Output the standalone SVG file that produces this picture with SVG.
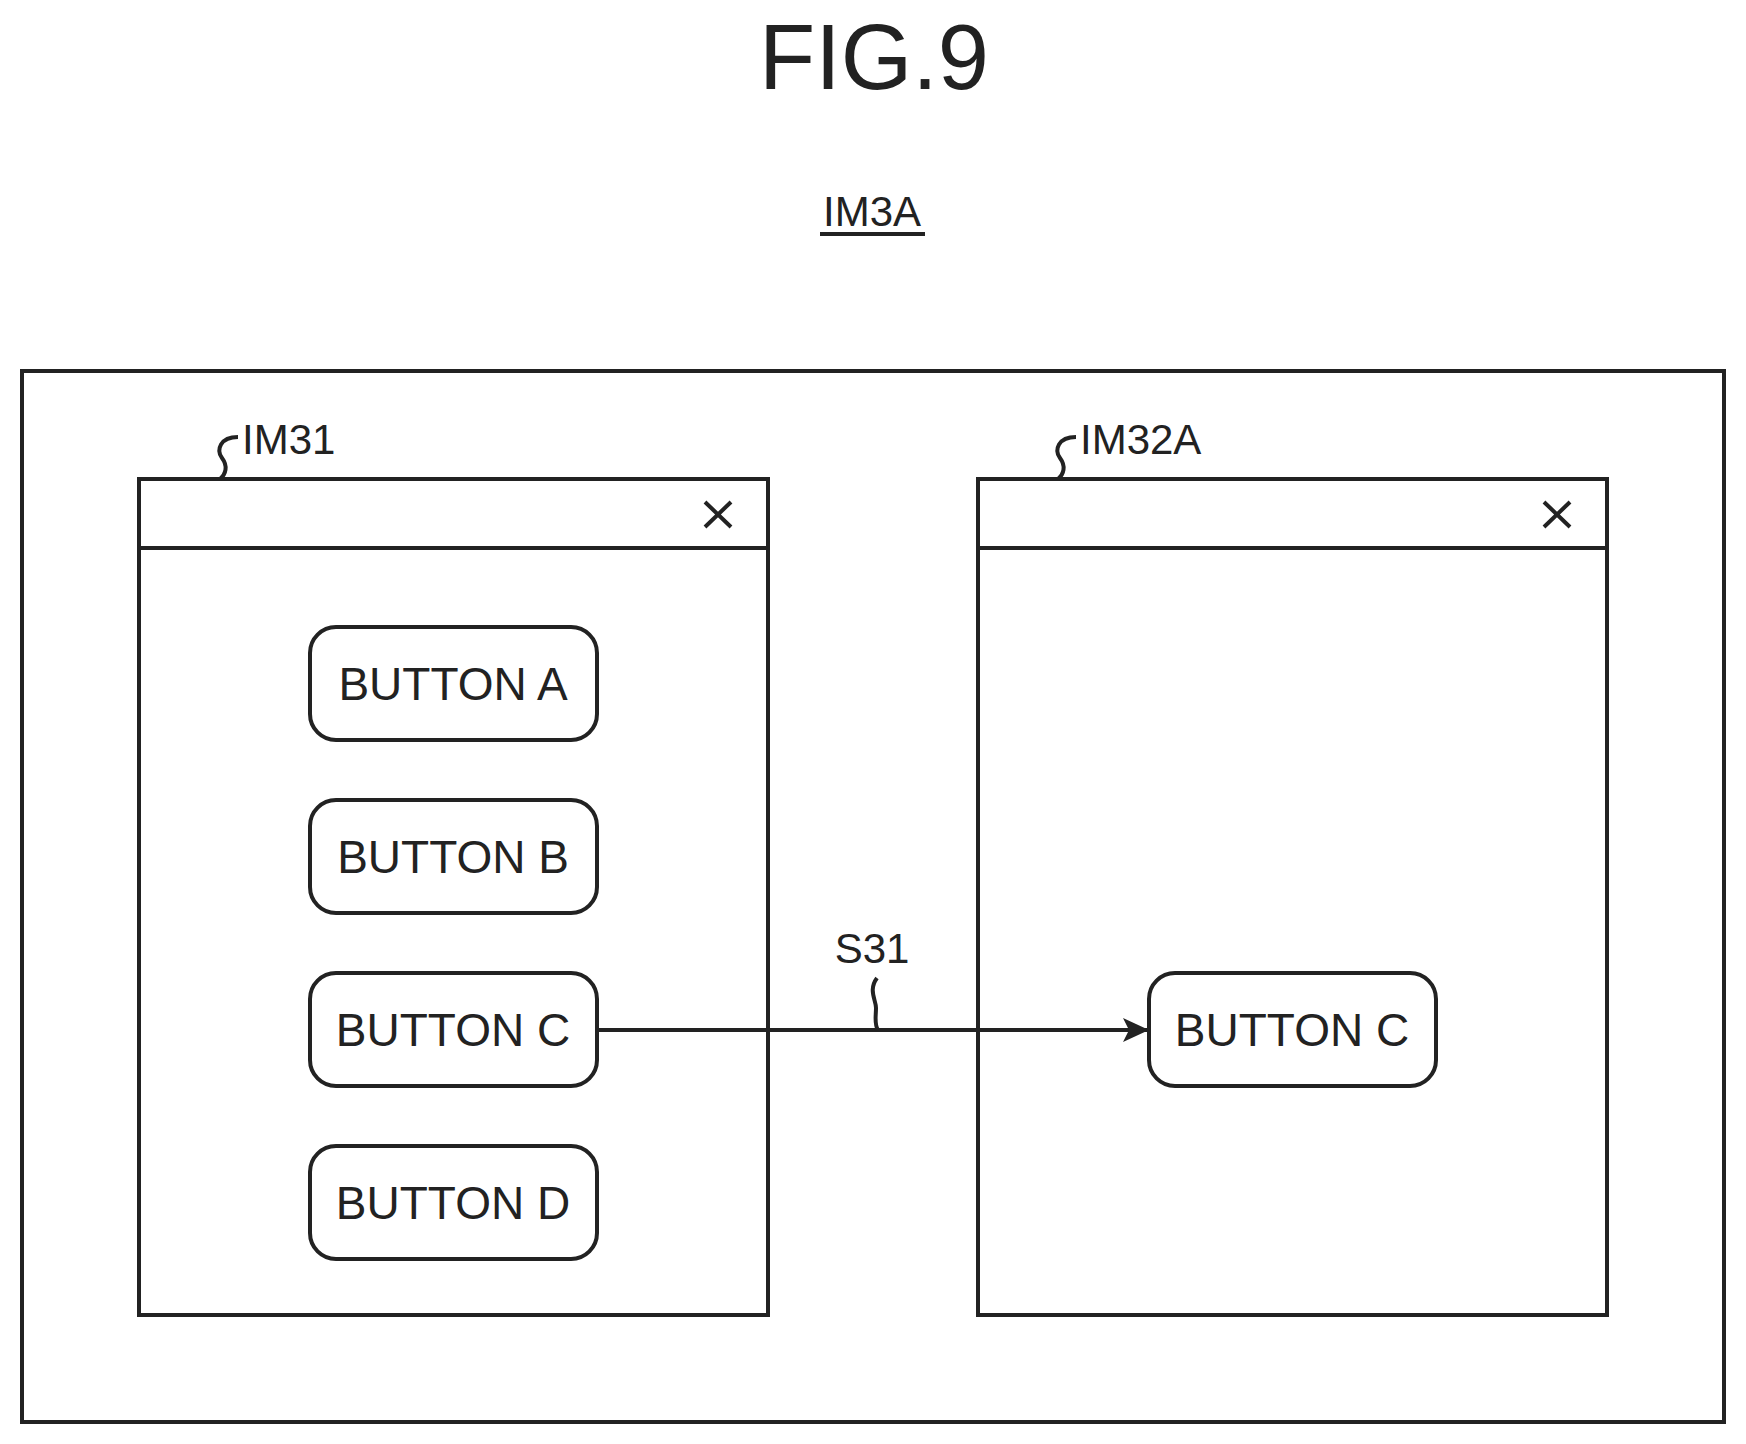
<svg xmlns="http://www.w3.org/2000/svg" width="1746" height="1444" viewBox="0 0 1746 1444">
<style>
.s{fill:none;stroke:#222;stroke-width:4}
.b{fill:#fff;stroke:#222;stroke-width:4}
.t{font-family:"Liberation Sans",Arial,sans-serif;fill:#222}
.bt{font-size:46px;text-anchor:middle}
.lb{font-size:42px}
</style>
<defs>
<marker id="ah" markerWidth="26" markerHeight="24" refX="25" refY="12" orient="auto" markerUnits="userSpaceOnUse" viewBox="0 0 26 24"><path d="M0,0 L26,12 L0,24 L6,12 Z" fill="#222"/></marker>
</defs>
<rect width="1746" height="1444" fill="#fff"/>
<text class="t" x="874" y="89" font-size="92" text-anchor="middle">FIG.9</text>
<g id="im3a"><text class="t lb" x="872" y="226" text-anchor="middle">IM3A</text><line class="s" x1="820" y1="234" x2="925" y2="234" stroke-width="3"/></g>
<g id="outer"><rect class="s" x="22" y="371" width="1702" height="1051"/></g>
<g id="im31">
<rect class="s" x="139" y="479" width="629" height="836"/>
<line class="s" x1="139" y1="548" x2="768" y2="548"/>
<path class="s" d="M705,502 L731,527 M731,502 L705,527" stroke-width="3.5"/>
<text class="t lb" x="242" y="454">IM31</text>
<path class="s" d="M238,437 C220,437 216,450 222,458 C228,466 226,474 220,479" stroke-width="3"/>
</g>
<g id="im32a">
<rect class="s" x="978" y="479" width="629" height="836"/>
<line class="s" x1="978" y1="548" x2="1607" y2="548"/>
<path class="s" d="M1544,502 L1570,527 M1570,502 L1544,527" stroke-width="3.5"/>
<text class="t lb" x="1080" y="454">IM32A</text>
<path class="s" d="M1076,437 C1058,437 1054,450 1060,458 C1066,466 1064,474 1058,479" stroke-width="3"/>
</g>
<g id="btnA"><rect class="b" x="310" y="627" width="287" height="113" rx="26"/><text class="t bt" x="453" y="700">BUTTON A</text></g>
<g id="btnB"><rect class="b" x="310" y="800" width="287" height="113" rx="26"/><text class="t bt" x="453" y="873">BUTTON B</text></g>
<g id="btnC"><rect class="b" x="310" y="973" width="287" height="113" rx="26"/><text class="t bt" x="453" y="1046">BUTTON C</text></g>
<g id="btnD"><rect class="b" x="310" y="1146" width="287" height="113" rx="26"/><text class="t bt" x="453" y="1219">BUTTON D</text></g>
<g id="btnC2"><rect class="b" x="1149" y="973" width="287" height="113" rx="26"/><text class="t bt" x="1292" y="1046">BUTTON C</text></g>
<g id="connectors">
<line class="s" x1="597" y1="1030" x2="1148" y2="1030" marker-end="url(#ah)"/>
<text class="t lb" x="872" y="963" text-anchor="middle">S31</text>
<path class="s" d="M877,978 C868,990 876,1000 876,1008 C876,1016 874,1024 878,1030" stroke-width="3"/>
</g>
</svg>
